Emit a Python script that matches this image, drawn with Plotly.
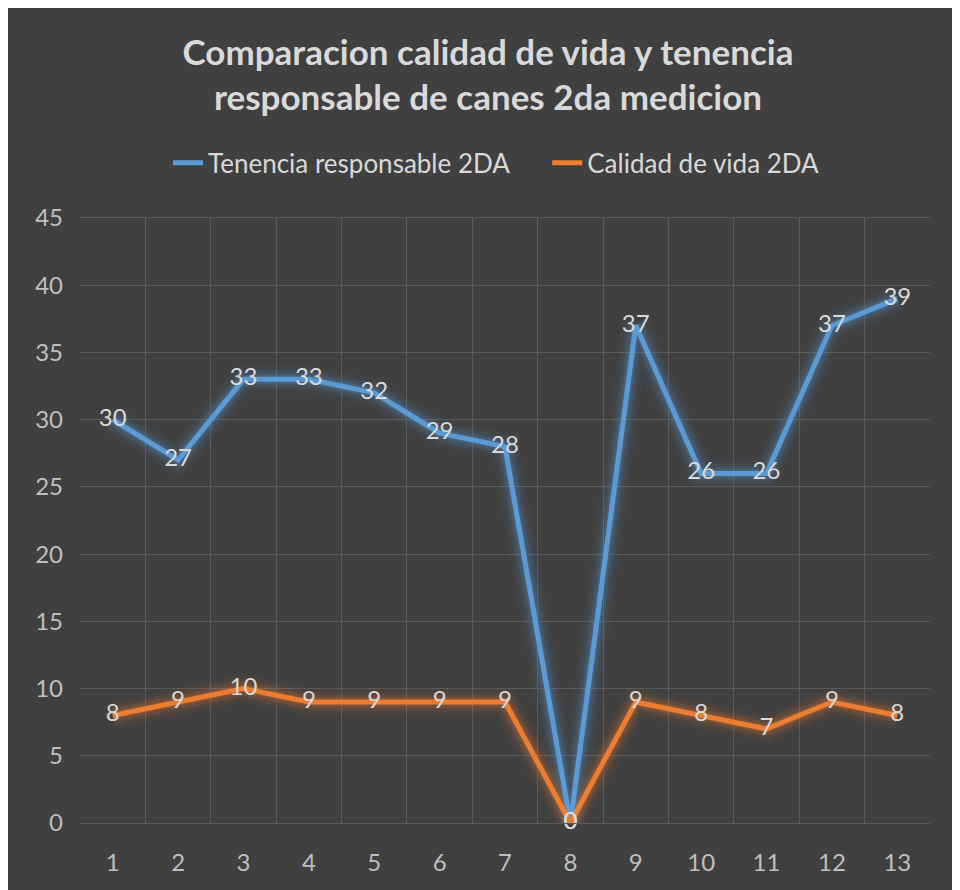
import plotly.graph_objects as go

categories = [str(i) for i in range(1, 14)]
tenencia = [30, 27, 33, 33, 32, 29, 28, 0, 37, 26, 26, 37, 39]
calidad = [8, 9, 10, 9, 9, 9, 9, 0, 9, 8, 7, 9, 8]
y_ticks = [0, 5, 10, 15, 20, 25, 30, 35, 40, 45]

BLUE = "#5B9BD5"
ORANGE = "#ED7D31"
BG = "#404040"
GRID = "#595959"
TXT = "#D9D9D9"
FONT = "Lato, 'Open Sans', sans-serif"

fig = go.Figure()

def glow(y, rgb):
    for w, a in [(28, 0.05), (20, 0.08), (14, 0.12), (9, 0.16)]:
        fig.add_trace(go.Scatter(
            x=categories, y=y, mode="lines",
            line=dict(color=f"rgba({rgb},{a})", width=w),
            hoverinfo="skip", showlegend=False))

glow(tenencia, "91,155,213")
glow(calidad, "237,125,49")

fig.add_trace(go.Scatter(
    x=categories, y=tenencia, mode="lines",
    name="Tenencia responsable 2DA" + "\u00a0" * 5,
    line=dict(color=BLUE, width=5)))
fig.add_trace(go.Scatter(
    x=categories, y=calidad, mode="lines", name="Calidad de vida 2DA",
    line=dict(color=ORANGE, width=5)))

# data labels drawn above both lines
for vals in (tenencia, calidad):
    fig.add_trace(go.Scatter(
        x=categories, y=vals, mode="text", text=[str(v) for v in vals],
        textposition="middle center", cliponaxis=False,
        textfont=dict(color=TXT, size=24, family=FONT),
        hoverinfo="skip", showlegend=False))

fig.update_layout(
    width=960, height=890,
    paper_bgcolor=BG, plot_bgcolor=BG,
    margin=dict(l=72, r=38, t=210, b=75, autoexpand=False),
    title=dict(
        text="<b>Comparacion calidad de vida y tenencia<br>responsable de canes 2da medicion</b>",
        x=0.5, xanchor="center", y=0.936, yanchor="middle",
        font=dict(size=35, color=TXT, family=FONT)),
    legend=dict(orientation="h", x=0.49, xanchor="center", y=1.091, yanchor="middle",
                font=dict(size=26, color=TXT, family=FONT), bgcolor="rgba(0,0,0,0)",
                itemwidth=30),
    xaxis=dict(type="category", tickson="boundaries", range=[-0.5, 12.5],
               showgrid=True, gridcolor=GRID,
               gridwidth=1.3, showline=True, linecolor=GRID, mirror=True, ticks="",
               tickfont=dict(size=24, color="#BFBFBF", family=FONT), ticklabelstandoff=18,
               zeroline=False, automargin=False),
    yaxis=dict(range=[0, 45], tickvals=y_ticks, showgrid=True, gridcolor=GRID,
               gridwidth=1.3, zeroline=False, showline=False, ticks="",
               tickfont=dict(size=24, color="#BFBFBF", family=FONT), ticklabelstandoff=16,
               automargin=False),
)

fig.write_html("out.html")
